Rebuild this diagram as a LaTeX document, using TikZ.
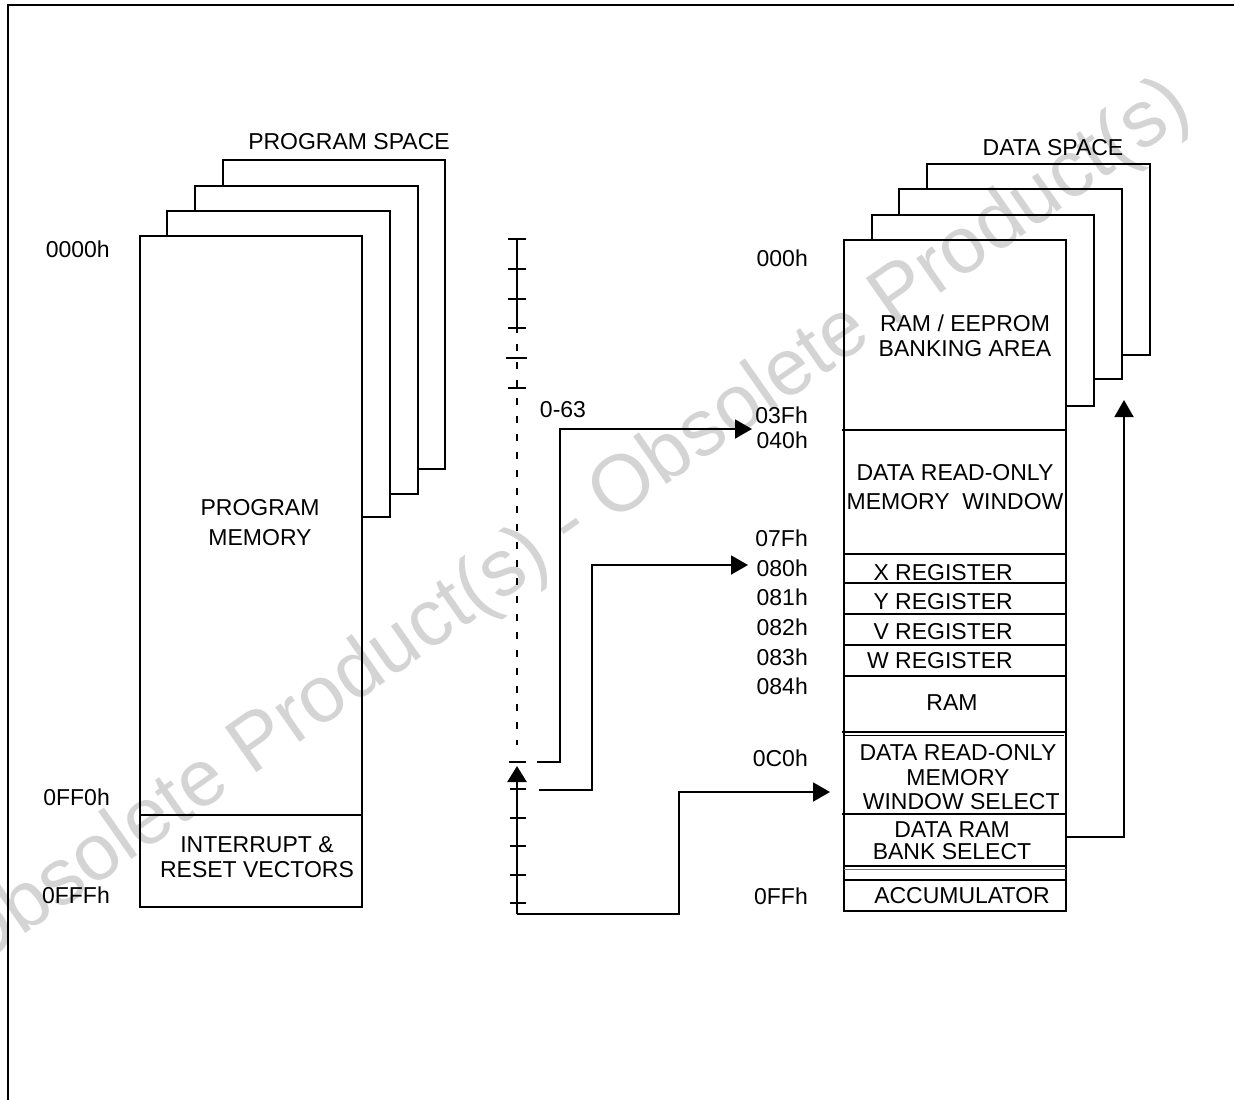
\documentclass[tikz,border=0pt]{standalone}
\usepackage{fontspec}
\setmainfont{Liberation Sans}
\usetikzlibrary{arrows.meta}
\definecolor{wm}{RGB}{212,212,212}
\begin{document}
\begin{tikzpicture}[x=1pt,y=-1pt,
  ln/.style={line width=1.9pt},
  thin2/.style={line width=1.2pt},
  lbl/.style={inner sep=0pt, font=\fontsize{23}{25}\selectfont, text height=16.5pt, text depth=0pt},
  addr/.style={lbl, anchor=east},
  txt/.style={inner sep=0pt, align=center},
  arr/.style={ln, -{Triangle[length=17pt,width=19pt]}},
  wmk/.style={inner sep=0pt, text=wm, font=\fontsize{80}{90}\selectfont}
]
\useasboundingbox (0,0) rectangle (1234,1100);
\fill[white] (0,0) rectangle (1234,1100);

% watermark
\node[wmk, rotate=35] (wmark) at (571,527) {Obsolete Product(s) - Obsolete Product(s)};

% frame
\draw[line width=1.5pt] (8,1100) -- (8,5) -- (1234,5);

% ---------------- PROGRAM SPACE ----------------
\node[lbl] (pspace) at (349,141) {PROGRAM SPACE};
\draw[ln] (223,186) -- (223,160) -- (445,160) -- (445,469) -- (418,469);
\draw[ln] (195,211) -- (195,186) -- (418,186) -- (418,494) -- (390,494);
\draw[ln] (167,236) -- (167,211) -- (390,211) -- (390,517) -- (362,517);
\draw[ln] (140,236) rectangle (362,907);
\draw[ln] (140,815) -- (362,815);

\node[addr] (p0000) at (110,249) {0000h};
\node[addr] (p0ff0) at (110,797) {0FF0h};
\node[addr] (p0fff) at (110,895) {0FFFh};
\node[txt, font=\fontsize{23}{30}\selectfont] (pmem) at (260,523) {PROGRAM\\MEMORY};
\node[txt, font=\fontsize{23}{24.5}\selectfont] (pvec) at (257,857) {INTERRUPT \&\\RESET VECTORS};

% ---------------- RULER ----------------
\coordinate (rtop) at (517,239);
\coordinate (rsol) at (517,328);
\coordinate (rdash) at (517,745);
\coordinate (rbot) at (517,914);
\coordinate (rtip) at (517,766);
\draw[ln] (rtop) -- (rsol);
\foreach \yy in {239,269,299,328} \draw[ln] (508,\yy) -- (526,\yy);
\draw[ln, dash pattern=on 7pt off 11pt, dash phase=2pt] (rsol) -- (rdash);
\draw[ln] (506,358) -- (527,358);
\draw[ln] (508,388) -- (526,388);
\draw[ln] (509,762) -- (526,762);
\foreach \yy in {789,818,846,875,903} \draw[ln] (510,\yy) -- (526,\yy);
\draw[line width=2.6pt, -{Triangle[length=16pt,width=19pt]}] (rbot) -- (rtip);

\node[lbl] (range) at (563,409) {0-63};

% connectors
\coordinate (s1) at (537,762);
\coordinate (e1) at (752,429);
\draw[arr] (s1) -- (560,762) |- (e1);
\coordinate (s2) at (539,790);
\coordinate (e2) at (748,565);
\draw[arr] (s2) -- (592,790) |- (e2);
\coordinate (e3) at (830,792);
\draw[arr] (rbot) -- (679,914) |- (e3);

% ---------------- DATA SPACE ----------------
\node[lbl] (dspace) at (1053,147) {DATA SPACE};
\draw[ln] (927,189) -- (927,164) -- (1150,164) -- (1150,355) -- (1122,355);
\draw[ln] (899,215) -- (899,189) -- (1122,189) -- (1122,379) -- (1094,379);
\draw[ln] (872,240) -- (872,215) -- (1094,215) -- (1094,406) -- (1066,406);
\draw[ln] (844,240) rectangle (1066,911);

\draw[ln] (842,430) -- (1066,430);
\draw[ln] (844,554) -- (1065,554);
\foreach \yy in {583,614,645,676} \draw[ln] (844,\yy) -- (1065,\yy);
\draw[ln] (842,732) -- (1066,732);
\draw[ln] (844,735.5) -- (1064,735.5);
\draw[ln] (842,814) -- (1066,814);
\draw[ln] (844,866) -- (1066,866);
\draw[thin2, black!55] (844,869.5) -- (1066,869.5);
\draw[ln] (844,880) -- (1066,880);

\node[addr] (d000) at (808,258) {000h};
\node[addr] (d03f) at (808,415) {03Fh};
\node[addr] (d040) at (808,440) {040h};
\node[addr] (d07f) at (808,538) {07Fh};
\node[addr] (d080) at (808,568) {080h};
\node[addr] (d081) at (808,597) {081h};
\node[addr] (d082) at (808,627) {082h};
\node[addr] (d083) at (808,657) {083h};
\node[addr] (d084) at (808,686) {084h};
\node[addr] (d0c0) at (808,758) {0C0h};
\node[addr] (d0ff) at (808,896) {0FFh};

\node[txt, font=\fontsize{23}{25}\selectfont] (bank) at (965,335.5) {RAM / EEPROM\\BANKING AREA};
\node[txt, font=\fontsize{23}{29}\selectfont] (drom) at (955,487.5) {DATA READ-ONLY\\MEMORY\ \ WINDOW};
\node[lbl, anchor=east] (xreg) at (1013,572) {X REGISTER};
\node[lbl, anchor=east] (yreg) at (1013,601) {Y REGISTER};
\node[lbl, anchor=east] (vreg) at (1013,631) {V REGISTER};
\node[lbl, anchor=east] (wreg) at (1013,660) {W REGISTER};
\node[lbl] (ram) at (952,702) {RAM};
\node[txt, font=\fontsize{23}{24.5}\selectfont] (dsel) at (958,777.5) {DATA READ-ONLY\\MEMORY\\\ WINDOW SELECT};
\node[txt, font=\fontsize{23}{22}\selectfont] (bsel) at (952,841) {DATA RAM\\BANK SELECT};
\node[lbl] (acc) at (962,895) {ACCUMULATOR};

\coordinate (bs) at (1066,837);
\coordinate (e4) at (1124,400);
\draw[arr] (bs) -| (e4);
\end{tikzpicture}
\end{document}
